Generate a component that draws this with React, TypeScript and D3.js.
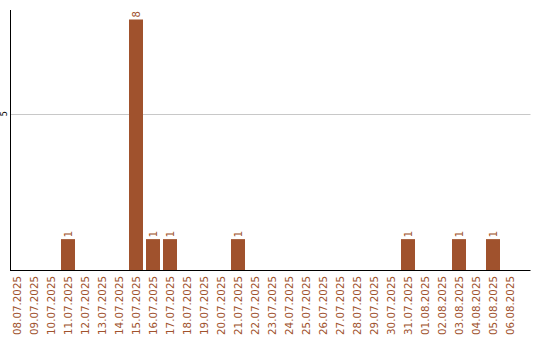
import React from "react";
import * as d3 from "d3";

const dates = [
  "08.07.2025", "09.07.2025", "10.07.2025", "11.07.2025", "12.07.2025",
  "13.07.2025", "14.07.2025", "15.07.2025", "16.07.2025", "17.07.2025",
  "18.07.2025", "19.07.2025", "20.07.2025", "21.07.2025", "22.07.2025",
  "23.07.2025", "24.07.2025", "25.07.2025", "26.07.2025", "27.07.2025",
  "28.07.2025", "29.07.2025", "30.07.2025", "31.07.2025", "01.08.2025",
  "02.08.2025", "03.08.2025", "04.08.2025", "05.08.2025", "06.08.2025",
];
const counts = [
  0, 0, 0, 1, 0,
  0, 0, 8, 1, 1,
  0, 0, 0, 1, 0,
  0, 0, 0, 0, 0,
  0, 0, 0, 1, 0,
  0, 1, 0, 1, 0,
];
const yTicks = [5];

const W = 540;
const H = 340;
const BAR = "#a0522d";
const FONT = "'DejaVu Sans', Verdana, sans-serif";

export default function App() {
  const left = 10.5;
  const right = 530.5;
  const base = 270.5;
  const top = 10;

  const x = d3
    .scaleBand<string>()
    .domain(dates)
    .range([8.5, 518.5])
    .paddingInner(3 / 17)
    .paddingOuter(1.5 / 17);

  const y = d3.scaleLinear().domain([0, 8]).range([base, 19.5]);

  return (
    <svg
      width={W}
      height={H}
      style={{ position: "absolute", left: 0, top: 0, display: "block" }}
      fontFamily={FONT}
    >
      <rect width={W} height={H} fill="#fff" />
      {yTicks.map((t) => (
        <g key={t}>
          <line
            x1={left}
            x2={right}
            y1={Math.round(y(t)) + 0.5}
            y2={Math.round(y(t)) + 0.5}
            stroke="#c8c8c8"
          />
          <text
            transform={`translate(4,${y(t)}) rotate(-90)`}
            textAnchor="middle"
            dy="0.35em"
            fontSize={8}
            fill="#000"
          >
            {t}
          </text>
        </g>
      ))}
      {dates.map((d, i) =>
        counts[i] > 0 ? (
          <g key={d}>
            <rect
              x={x(d)!}
              y={y(counts[i])}
              width={x.bandwidth()}
              height={base - 0.5 - y(counts[i])}
              fill={BAR}
            />
            <text
              transform={`translate(${x(d)! + x.bandwidth() / 2},${y(counts[i]) - 2}) rotate(-90)`}
              textAnchor="start"
              dy="0.35em"
              fontSize={10}
              fill={BAR}
            >
              {counts[i]}
            </text>
          </g>
        ) : null
      )}
      <line x1={left} x2={left} y1={top} y2={base} stroke="#000" />
      <line x1={left - 0.5} x2={right} y1={base} y2={base} stroke="#000" />
      {dates.map((d) => (
        <text
          key={d}
          transform={`translate(${x(d)! + x.bandwidth() / 2},276) rotate(-90)`}
          textAnchor="end"
          dy="0.35em"
          fontSize={10.3}
          fill={BAR}
        >
          {d}
        </text>
      ))}
    </svg>
  );
}
